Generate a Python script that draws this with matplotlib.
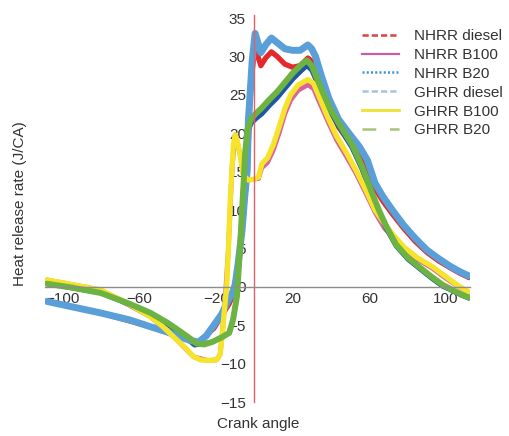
import matplotlib
matplotlib.use("Agg")
import matplotlib.pyplot as plt
from matplotlib.lines import Line2D

plt.rcParams["font.family"] = ["Liberation Sans", "DejaVu Sans"]

# crank angle / heat release rate
x_ghrr_diesel = [-108, -95, -80, -65, -54, -45, -38, -33, -29, -25, -21, -17, -14, -11.5, -9.9, -8.3,
                 -6.3, -5, -3.6, -3, -2.1, -1, 0.5, 3.5, 6, 9, 12, 16, 20, 24, 28, 30, 32, 35, 39, 44,
                 50, 55, 59, 63, 67, 72, 78, 84, 90, 96, 102, 107, 112]
y_ghrr_diesel = [-1.9, -2.6, -3.4, -4.3, -5.2, -5.9, -6.6, -7.0, -7.2, -6.4, -5.0, -3.6, -2.0, -0.9,
                 0.3, 3.1, 7.4, 11.5, 15.2, 21.7, 25.2, 29.5, 33.0, 30.5, 31.5, 32.4, 31.8, 31.0, 30.8,
                 30.8, 31.5, 31.0, 30.0, 27.5, 24.5, 21.8, 19.8, 18.2, 16.5, 13.5, 11.8, 10.0, 8.0,
                 6.3, 4.8, 3.7, 2.7, 2.0, 1.4]

x_nhrr_diesel = [-108, -80, -54, -38, -29, -21, -13, -10, -6.3, -3.6, -2.1, -1, 0.5, 3.5, 6, 9, 12,
                 16, 20, 24, 28, 30, 32, 35, 39, 44, 50, 55, 59, 63, 67, 72, 78, 84, 90, 96, 102, 107, 112]
y_nhrr_diesel = [-1.9, -3.4, -5.2, -6.6, -7.2, -5.4, -2.2, -0.4, 7.4, 15.2, 24.5, 28.3, 31.2, 28.8,
                 29.8, 30.6, 30.0, 29.0, 28.6, 28.8, 29.8, 29.4, 28.4, 26.6, 23.6, 20.8, 18.8, 17.2,
                 15.6, 12.8, 11.2, 9.5, 7.6, 5.9, 4.5, 3.4, 2.5, 1.8, 1.2]

x_ghrr_b20 = [-108, -95, -80, -65, -54, -45, -38, -33, -30, -26, -22, -17, -13, -11, -9, -8.2, -7.3,
              -6.4, -5.6, -4.7, -3.5, -1.5, 1, 4, 8, 12, 16, 20, 24, 27.5, 30, 33, 36, 40, 46, 51, 56,
              61, 65, 69, 74, 80, 86, 92, 98, 104, 108, 112]
y_ghrr_b20 = [0.4, -0.1, -0.8, -2.2, -3.4, -4.7, -5.9, -6.8, -7.4, -7.5, -7.2, -6.6, -6.0, -4.3, -1.3,
              1.8, 5.2, 9.6, 13.0, 17.4, 20.5, 21.9, 22.6, 23.3, 24.4, 25.4, 26.6, 27.8, 28.8, 29.5,
              28.8, 27.0, 25.2, 23.0, 20.5, 18.5, 15.8, 12.5, 10.0, 7.8, 5.5, 3.8, 2.6, 1.4, 0.3,
              -0.5, -1.0, -1.4]

x_nhrr_b20 = [-108, -80, -54, -40, -31, -22, -13, -11, -9, -7.3, -5.6, -3.5, -1.5, 1, 4, 8, 12, 16,
              20, 24, 27.5, 30, 33, 36, 40, 46, 51, 56, 61, 65, 69, 74, 80, 86, 92, 98, 104, 108, 112]
y_nhrr_b20 = [0.4, -0.8, -3.4, -5.8, -7.6, -7.2, -6.0, -4.3, -1.3, 5.2, 13.0, 20.0, 21.3, 21.9, 22.5,
              23.6, 24.6, 25.8, 27.0, 28.0, 28.8, 28.2, 26.5, 24.7, 22.6, 20.1, 18.1, 15.4, 12.1,
              9.7, 7.5, 5.3, 3.6, 2.4, 1.2, 0.1, -0.6, -1.1, -1.5]

x_ghrr_b100 = [-108, -95, -80, -67, -54, -48, -42, -36, -31.6, -28, -24, -19.5, -17.7, -16.5, -15.5,
               -14.3, -13.4, -12.5, -11.6, -10.8, -9.9, -8.8, -7.3, -5.6, -3, 0, 2.3, 4, 7, 10, 13,
               16, 19, 23, 28, 31, 33, 38.5, 43, 48, 53, 58, 63, 68, 72, 78, 85, 93, 100, 106, 112]
y_ghrr_b100 = [0.9, 0.3, -0.4, -2.0, -3.9, -5.1, -6.5, -7.9, -9.1, -9.5, -9.6, -9.5, -8.8, -6.0,
               -3.0, 0.0, 5.0, 11.0, 15.2, 18.5, 19.8, 19.0, 17.2, 14.5, 13.9, 14.0, 14.3, 16.0,
               16.8, 18.5, 20.8, 23.2, 25.0, 26.3, 27.0, 26.5, 25.3, 22.0, 19.6, 17.5, 15.2, 12.7,
               10.0, 8.2, 6.9, 5.2, 3.8, 2.6, 1.3, 0.2, -0.7]

x_nhrr_b100 = [-108, -80, -54, -42, -31.6, -24, -19.5, -17.7, -15.5, -13.4, -11.6, -9.9, -7.3, -5.6,
               -3, 0, 2.3, 4, 7, 10, 13, 16, 19, 23, 28, 31, 33, 38.5, 43, 48, 53, 58, 63, 68, 72,
               78, 85, 93, 100, 106, 112]
y_nhrr_b100 = [0.9, -0.4, -3.9, -6.5, -9.1, -9.6, -9.5, -8.8, -3.0, 5.0, 15.2, 19.8, 17.2, 14.5,
               13.9, 14.0, 14.1, 15.5, 16.2, 17.8, 20.0, 22.5, 24.3, 25.6, 26.3, 25.8, 24.6, 21.5,
               19.1, 17.0, 14.8, 12.3, 9.7, 7.6, 6.6, 5.0, 3.6, 2.4, 1.1, 0.1, -0.8]

x_ticks = [-100, -60, -20, 20, 60, 100]
y_ticks = [-15, -10, -5, 0, 5, 10, 15, 20, 25, 30, 35]

fig = plt.figure(figsize=(5.1, 4.36), dpi=100)
ax = fig.add_axes([45 / 510, 1 - 402 / 436, 425 / 510, 387 / 436])

# thick traces, drawn back to front
ax.plot(x_nhrr_diesel, y_nhrr_diesel, color="#e4292b", lw=3.8, solid_capstyle="round")
ax.plot(x_nhrr_b100, y_nhrr_b100, color="#d8649f", lw=3.4, solid_capstyle="round")
ax.plot(x_nhrr_b20, y_nhrr_b20, color="#1f56a3", lw=3.4, solid_capstyle="round")
ax.plot(x_ghrr_diesel, y_ghrr_diesel, color="#5b9fd8", lw=5.0, solid_capstyle="round")
ax.plot(x_ghrr_b100, y_ghrr_b100, color="#f5e42a", lw=3.8, solid_capstyle="round")
ax.plot(x_ghrr_b20, y_ghrr_b20, color="#6cb342", lw=4.3, solid_capstyle="round")

ax.set_xlim(-109, 112.5)
ax.set_ylim(-15, 35.4)
ax.set_xticks(x_ticks)
ax.set_yticks(y_ticks)
ax.tick_params(length=0, labelsize=11, colors="#333333")
ax.tick_params(axis="x", pad=4)
ax.tick_params(axis="y", pad=6)

ax.spines["left"].set_position(("data", 0))
ax.spines["bottom"].set_position(("data", 0))
ax.spines["left"].set_color("#e0606a")
ax.spines["left"].set_linewidth(1.0)
ax.spines["bottom"].set_color("#8c8c8c")
ax.spines["bottom"].set_linewidth(1.0)
ax.spines["top"].set_visible(False)
ax.spines["right"].set_visible(False)
ax.patch.set_visible(False)

fig.text(20 / 510, 1 - 204 / 436, "Heat release rate (J/CA)", rotation=90,
         ha="center", va="center", fontsize=11, color="#333333")
fig.text(258 / 510, 1 - 424 / 436, "Crank angle", ha="center", va="center",
         fontsize=11, color="#333333")

handles = [
    Line2D([], [], color="#e04040", lw=1.8, dashes=(2.5, 1.2)),
    Line2D([], [], color="#c45ca8", lw=1.6),
    Line2D([], [], color="#3d94d6", lw=1.8, dashes=(0.8, 0.9)),
    Line2D([], [], color="#a3c4e3", lw=1.8, dashes=(2.5, 1.2)),
    Line2D([], [], color="#f2e030", lw=2.0),
    Line2D([], [], color="#a9c27a", lw=1.8, dashes=(5.5, 5.5)),
]
labels = ["NHRR diesel", "NHRR B100", "NHRR B20", "GHRR diesel", "GHRR B100", "GHRR B20"]
fig.legend(handles, labels, loc="upper left", bbox_to_anchor=(362 / 510, 1 - 29 / 436),
           frameon=False, fontsize=11, handlelength=2.4, handletextpad=1.0,
           labelspacing=0.32, borderpad=0, borderaxespad=0, labelcolor="#333333")

fig.savefig("out.png", dpi=100)
